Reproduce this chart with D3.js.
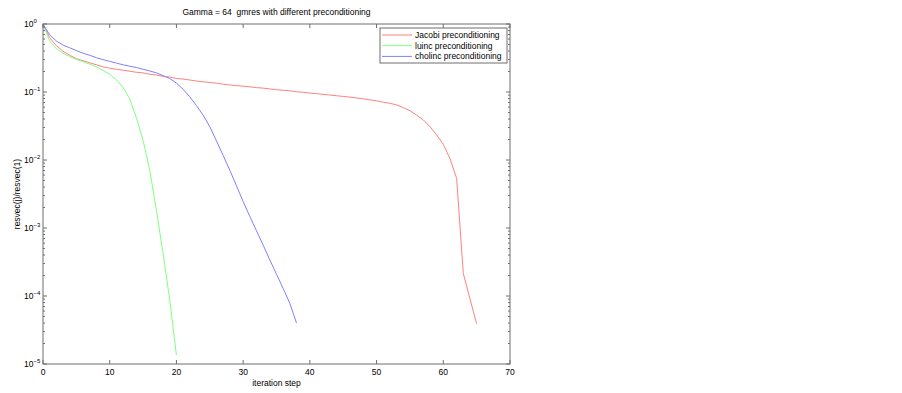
<!DOCTYPE html>
<html>
<head>
<meta charset="utf-8">
<script src="https://cdn.jsdelivr.net/npm/d3@7"></script>
<style>
  body { margin: 0; background: #fff; }
  text { font-family: "Liberation Sans", Arial, sans-serif; fill: #000; }
</style>
</head>
<body>
<div id="chart"></div>
<script>
// residual norms, resvec(j)/resvec(1), one value per iteration step (0, 1, 2, ...)
const jacobi = [1, 0.631, 0.479, 0.398, 0.347, 0.309, 0.288, 0.269, 0.251, 0.234,
    0.224, 0.216, 0.209, 0.202, 0.195, 0.191, 0.182, 0.178, 0.170, 0.166,
    0.158, 0.155, 0.150, 0.145, 0.141, 0.138, 0.135, 0.130, 0.127, 0.124,
    0.122, 0.119, 0.116, 0.114, 0.111, 0.108, 0.106, 0.104, 0.101, 0.0989,
    0.0966, 0.0944, 0.0923, 0.0902, 0.0881, 0.0861, 0.0841, 0.0817, 0.0794, 0.0767,
    0.0741, 0.0708, 0.0682, 0.0646, 0.0589, 0.0531, 0.0457, 0.0389, 0.0309, 0.0234,
    0.0170, 0.0105, 0.00537, 2.14e-4, 9.1e-5, 3.9e-5];
const luinc = [1, 0.562, 0.437, 0.372, 0.331, 0.302, 0.279, 0.257, 0.234, 0.209,
    0.182, 0.151, 0.117, 0.0794, 0.0417, 0.0195, 0.00708, 0.00182, 4.27e-4, 8.7e-5,
    1.35e-5];
const cholinc = [1, 0.692, 0.562, 0.490, 0.447, 0.407, 0.372, 0.347, 0.320, 0.299,
    0.282, 0.266, 0.251, 0.240, 0.229, 0.216, 0.204, 0.191, 0.174, 0.158,
    0.135, 0.110, 0.0851, 0.0631, 0.0457, 0.0309, 0.0191, 0.0117, 0.00708, 0.00417,
    0.00245, 0.00148, 9.1e-4, 5.6e-4, 3.39e-4, 2.09e-4, 1.29e-4, 7.8e-5, 4.0e-5];

const seriesNames = ["Jacobi preconditioning", "luinc preconditioning", "cholinc preconditioning"];
const seriesColours = ["#ff8080", "#80ff80", "#8080ff"];
const xTicks = [0, 10, 20, 30, 40, 50, 60, 70];
const yDecades = [0, -1, -2, -3, -4, -5];

const series = [jacobi, luinc, cholinc].map((vals, i) => ({
    name: seriesNames[i],
    colour: seriesColours[i],
    values: vals.map((v, j) => [j, v])
}));

const width = 902, height = 393;
const margin = {top: 24, right: 392, bottom: 29, left: 43};
const innerW = width - margin.left - margin.right,
    innerH = height - margin.top - margin.bottom;
const axisColour = "#6e6e6e";

const svg = d3.select("#chart").append("svg")
    .attr("width", width)
    .attr("height", height);

const g = svg.append("g")
    .attr("transform", "translate(" + margin.left + "," + margin.top + ")");

const x = d3.scaleLinear().domain([0, 70]).range([0, innerW]);
const y = d3.scaleLog().domain([1e-5, 1]).range([innerH, 0]);

// minor tick values for the log axis
const minorTicks = [];
for (let e = -5; e < 0; e++) {
    for (let m = 2; m <= 9; m++) minorTicks.push(m * Math.pow(10, e));
}

// curves
g.append("g")
    .selectAll("path")
    .data(series)
    .enter()
    .append("path")
    .attr("fill", "none")
    .attr("stroke", d => d.colour)
    .attr("stroke-width", 1)
    .attr("d", d => d3.line().x(p => x(p[0])).y(p => y(p[1]))(d.values));

// box
g.append("rect")
    .attr("width", innerW)
    .attr("height", innerH)
    .attr("fill", "none")
    .attr("stroke", axisColour)
    .attr("stroke-width", 1);

// x ticks, inside, bottom and top
const xt = g.append("g").attr("stroke", axisColour);
xTicks.forEach(t => {
    xt.append("line").attr("x1", x(t)).attr("x2", x(t)).attr("y1", innerH).attr("y2", innerH - 4);
    xt.append("line").attr("x1", x(t)).attr("x2", x(t)).attr("y1", 0).attr("y2", 4);
});

// y ticks, inside, left and right
const yt = g.append("g").attr("stroke", axisColour);
yDecades.forEach(e => {
    const yy = y(Math.pow(10, e));
    yt.append("line").attr("x1", 0).attr("x2", 4).attr("y1", yy).attr("y2", yy);
    yt.append("line").attr("x1", innerW).attr("x2", innerW - 4).attr("y1", yy).attr("y2", yy);
});
minorTicks.forEach(v => {
    const yy = y(v);
    yt.append("line").attr("x1", 0).attr("x2", 2).attr("y1", yy).attr("y2", yy);
    yt.append("line").attr("x1", innerW).attr("x2", innerW - 2).attr("y1", yy).attr("y2", yy);
});

// x tick labels
g.append("g")
    .selectAll("text")
    .data(xTicks)
    .enter()
    .append("text")
    .attr("x", d => x(d))
    .attr("y", innerH + 11)
    .attr("text-anchor", "middle")
    .style("font-size", "8.5px")
    .text(d => d);

// y tick labels: 10 with exponent, starting at a fixed column
const yl = g.append("g")
    .selectAll("text")
    .data(yDecades)
    .enter()
    .append("text")
    .attr("x", -19)
    .attr("y", d => y(Math.pow(10, d)) + 3)
    .style("font-size", "8.5px");
yl.append("tspan").text("10");
yl.append("tspan")
    .attr("dy", -4)
    .style("font-size", "6px")
    .text(d => d === 0 ? "0" : "\u2212" + (-d));

// title and axis labels
svg.append("text")
    .attr("x", margin.left + innerW / 2)
    .attr("y", 15)
    .attr("text-anchor", "middle")
    .style("font-size", "8.5px")
    .style("white-space", "pre")
    .text("Gamma = 64  gmres with different preconditioning");

svg.append("text")
    .attr("x", margin.left + innerW / 2)
    .attr("y", height - 7)
    .attr("text-anchor", "middle")
    .style("font-size", "8.5px")
    .text("iteration step");

svg.append("text")
    .attr("transform", "rotate(-90)")
    .attr("x", -(margin.top + innerH / 2))
    .attr("y", 20)
    .attr("text-anchor", "middle")
    .style("font-size", "8.5px")
    .text("resvec(j)/resvec(1)");

// legend
const legend = svg.append("g").attr("transform", "translate(380,28)");
legend.append("rect")
    .attr("width", 127)
    .attr("height", 35)
    .attr("fill", "#fff")
    .attr("stroke", axisColour);
const items = legend.selectAll("g.item")
    .data(series)
    .enter()
    .append("g")
    .attr("class", "item")
    .attr("transform", (d, i) => "translate(0," + (7 + i * 10.7) + ")");
items.append("line")
    .attr("x1", 2).attr("x2", 32)
    .attr("stroke", d => d.colour);
items.append("text")
    .attr("x", 35)
    .attr("y", 3)
    .style("font-size", "8.5px")
    .text(d => d.name);
</script>
</body>
</html>
